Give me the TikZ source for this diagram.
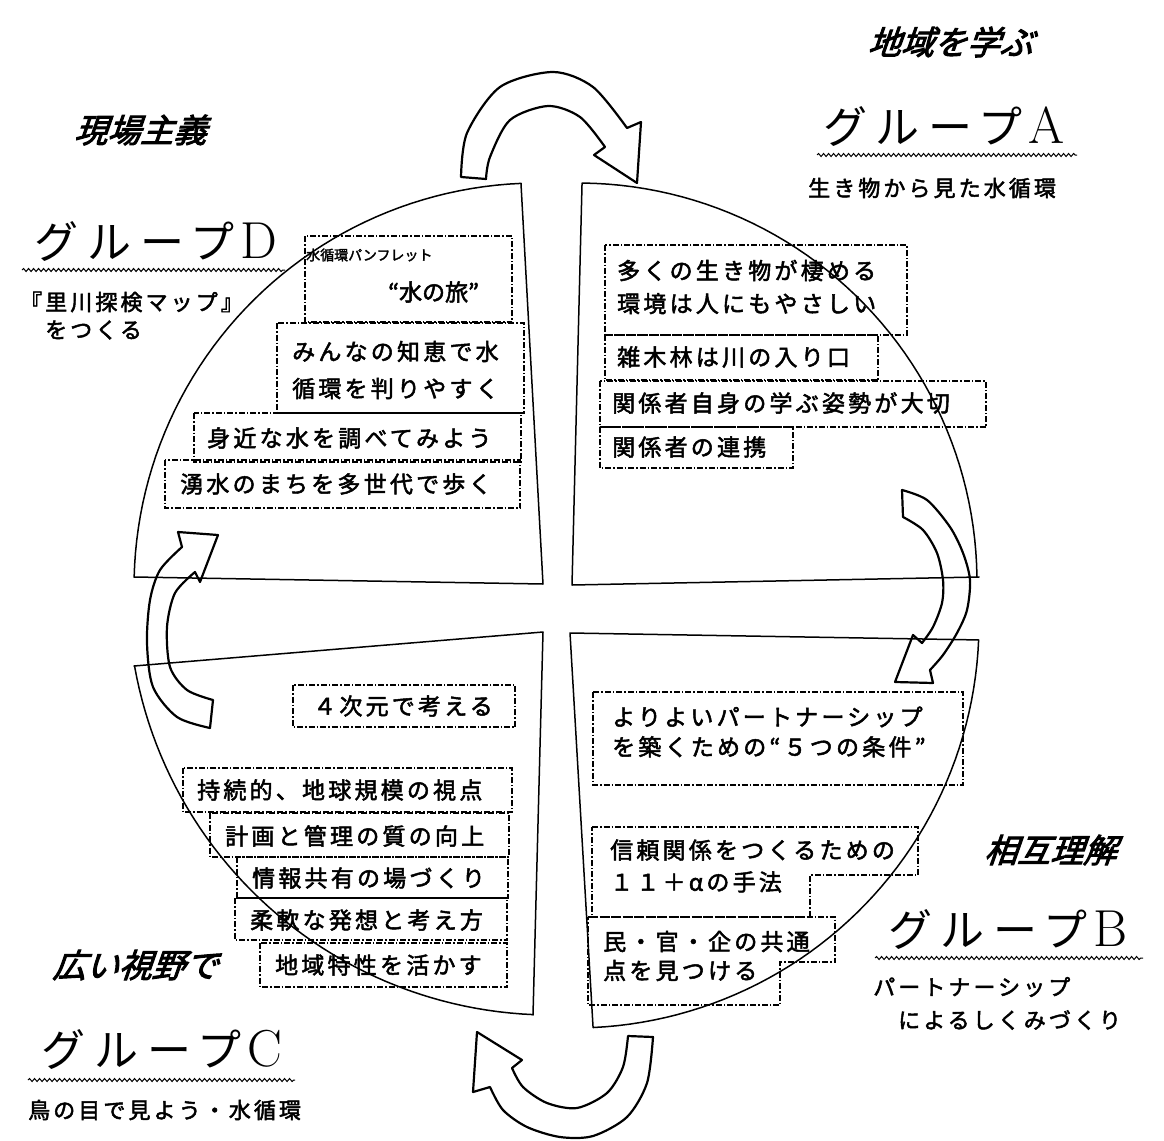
\documentclass[tikz,border=0pt]{standalone}
\usepackage{fontspec}
\newfontfamily\jpplain[FakeBold=2.2]{Noto Sans CJK JP}
\newfontfamily\jpbox[LetterSpace=14,FakeBold=2.2]{Noto Sans CJK JP}
\newfontfamily\jpbig[LetterSpace=20]{Noto Sans CJK JP}
\newfontfamily\jpit[FakeSlant=0.35,FakeBold=3]{Noto Sans CJK JP}
\usetikzlibrary{decorations.pathmorphing}
\tikzset{
  quad/.style={draw, line width=1.5pt, line join=round},
  barrow/.style={draw, line width=2.2pt, line join=round},
  dbox/.style={draw, line width=1.3pt, dash pattern=on 6pt off 2pt on 1.5pt off 2pt},
  boxtxt/.style={anchor=west, inner sep=0pt, align=left, font=\jpbox\fontsize{23}{33}\selectfont},
  subtxt/.style={anchor=west, inner sep=0pt, font=\jpbox\fontsize{22}{28}\selectfont},
  motto/.style={inner sep=0pt, font=\jpit\fontsize{33}{36}\selectfont},
  grp/.style={inner sep=0pt, font=\jpbig\fontsize{44}{48}\selectfont},
  wavy/.style={line width=1pt, decorate, decoration={snake, amplitude=1.5pt, segment length=5pt}}
}
\newcommand{\grpname}[1]{グループ\hspace{6pt}{\rmfamily\fontsize{52}{52}\selectfont #1}}
\begin{document}
\begin{tikzpicture}[x=1pt,y=-1pt]
\path[use as bounding box, fill=white] (0,0) rectangle (1164,1140);

% quadrants
\draw[quad] (521,184) -- (543,584) -- (134,577) -- plot[domain=181.4:267.6, samples=50] ({538+404*cos(\x)},{587+404*sin(\x)}) -- cycle;
\draw[quad] (582,185) -- (572,585) -- (979,577) -- plot[domain=359.3:270.6, samples=50] ({578+399*cos(\x)},{582+399*sin(\x)}) -- cycle;
\draw[quad] (570,633) -- plot[domain=2.4:87.3, samples=50] ({574+405*cos(\x)},{623+405*sin(\x)}) -- cycle;
\draw[quad] (134,666) -- (543,632) -- (533,1015) -- plot[domain=92.4:169.9, samples=50] ({551+423*cos(\x)},{592+423*sin(\x)}) -- cycle;

% block arrows
\draw[barrow] plot[smooth] coordinates {(461,177) (467,133) (500,87) (553,72) (593,87) (627,128)} -- (641,122) -- (637,183) -- (594,155) -- plot[smooth] coordinates {(605,147) (580,117) (548,106) (510,120) (490,157) (486,179)} -- cycle;
\draw[barrow] plot[smooth] coordinates {(902,490) (927,500) (950,527) (963,553) (970,580) (967,610) (957,633) (943,655) (930,670)} -- (933,683) -- (895,682) -- (913,635) -- plot[smooth] coordinates {(922,643) (933,627) (942,603) (943,580) (937,553) (923,530) (903,517)} -- cycle;
\draw[barrow] plot[smooth] coordinates {(210,728) (177,717) (153,687) (147,643) (150,600) (160,570) (182,547)} -- (178,532) -- (218,535) -- (200,582) -- plot[smooth] coordinates {(195,572) (175,593) (167,627) (170,667) (187,690) (213,700)} -- cycle;
\draw[barrow] plot[smooth] coordinates {(653,1037) (647,1083) (627,1117) (593,1136) (560,1137) (527,1127) (503,1110) (490,1087)} -- (473,1092) -- (477,1032) -- (522,1060) -- plot[smooth] coordinates {(512,1068) (523,1087) (547,1103) (577,1108) (607,1093) (623,1067) (628,1036)} -- cycle;

% group D boxes
\draw[dbox] (305,236) rectangle (512,322);
\draw[dbox] (277,323) rectangle (524,413);
\draw[dbox] (194,413) rectangle (521,462);
\draw[dbox] (165,460) rectangle (520,508);
\node[anchor=west, inner sep=0pt, font=\jpplain\fontsize{14}{15}\selectfont] (d1a) at (306,255) {水循環パンフレット};
\node[anchor=west, inner sep=0pt, font=\jpplain\fontsize{23}{26}\selectfont] (d1b) at (388,292) {“水の旅”};
\node[boxtxt, font=\jpbox\fontsize{23}{37}\selectfont] (d2) at (292,370) {みんなの知恵で水\\循環を判りやすく};
\node[boxtxt] (d3) at (207,438) {身近な水を調べてみよう};
\node[boxtxt] (d4) at (180,484) {湧水のまちを多世代で歩く};

% group A boxes
\draw[dbox] (605,245) rectangle (907,335);
\draw[dbox] (605,335) rectangle (878,380);
\draw[dbox] (600,381) rectangle (986,427);
\draw[dbox] (600,427) rectangle (793,468);
\node[boxtxt] (a1) at (617,287) {多くの生き物が棲める\\環境は人にもやさしい};
\node[boxtxt] (a2) at (617,357) {雑木林は川の入り口};
\node[boxtxt] (a3) at (612,403) {関係者自身の学ぶ姿勢が大切};
\node[boxtxt] (a4) at (612,447) {関係者の連携};

% group C boxes
\draw[dbox] (293,685) rectangle (515,727);
\draw[dbox] (183,768) rectangle (512,812);
\draw[dbox] (210,813) rectangle (509,857);
\draw[dbox] (237,857) rectangle (508,898);
\draw[dbox] (235,898) rectangle (507,940);
\draw[dbox] (260,943) rectangle (507,987);
\node[boxtxt] (c1) at (313,706) {４次元で考える};
\node[boxtxt] (c2) at (197,790) {持続的、地球規模の視点};
\node[boxtxt] (c3) at (225,836) {計画と管理の質の向上};
\node[boxtxt] (c4) at (252,878) {情報共有の場づくり};
\node[boxtxt] (c5) at (250,920) {柔軟な発想と考え方};
\node[boxtxt] (c6) at (275,965) {地域特性を活かす};

% group B boxes
\draw[dbox] (593,692) rectangle (963,785);
\draw[dbox] (592,827) -- (918,827) -- (918,875) -- (810,875) -- (810,917) -- (592,917) -- cycle;
\draw[dbox] (588,917) -- (835,917) -- (835,962) -- (780,962) -- (780,1005) -- (588,1005) -- cycle;
\node[boxtxt, font=\jpbox\fontsize{23}{30}\selectfont] (b1) at (612,732) {よりよいパートナーシップ\\を築くための“５つの条件”};
\node[boxtxt, font=\jpbox\fontsize{23}{32}\selectfont] (b2) at (610,866) {信頼関係をつくるための\\１１＋αの手法};
\node[boxtxt, font=\jpbox\fontsize{23}{29}\selectfont] (b3) at (603,956) {民・官・企の共通\\点を見つける};

% headings
\node[motto] (mA) at (950,42) {地域を学ぶ};
\node[grp] (gA) at (944,127) {\grpname{A}};
\draw[wavy] (817,155) -- (1077,155);
\node[subtxt] (sA) at (808,188) {生き物から見た水循環};

\node[motto] (mD) at (140,130) {現場主義};
\node[grp] (gD) at (156,242) {\grpname{D}};
\draw[wavy] (22,270) -- (285,270);
\node[subtxt] (sD1) at (20,302) {『里川探検マップ』};
\node[subtxt] (sD2) at (45,330) {をつくる};

\node[motto] (mB) at (1050,850) {相互理解};
\node[grp] (gB) at (1008,930) {\grpname{B}};
\draw[wavy] (875,958) -- (1143,958);
\node[subtxt] (sB1) at (873,987) {パートナーシップ};
\node[subtxt] (sB2) at (898,1020) {によるしくみづくり};

\node[motto] (mC) at (135,965) {広い視野で};
\node[grp] (gC) at (162,1050) {\grpname{C}};
\draw[wavy] (28,1080) -- (295,1080);
\node[subtxt] (sC) at (28,1110) {鳥の目で見よう・水循環};
\end{tikzpicture}
\end{document}
